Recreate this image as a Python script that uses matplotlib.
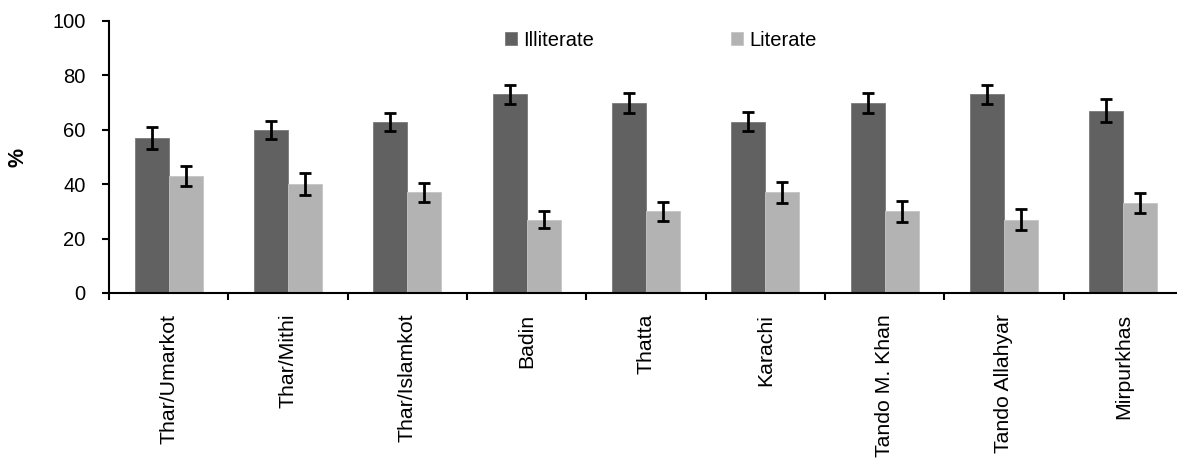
import numpy as np
import matplotlib.pyplot as plt

plt.rcParams['font.family'] = ['Liberation Sans', 'DejaVu Sans']

districts = ['Thar/Umarkot', 'Thar/Mithi', 'Thar/Islamkot', 'Badin', 'Thatta',
             'Karachi', 'Tando M. Khan', 'Tando Allahyar', 'Mirpurkhas']
illiterate = [57, 60, 63, 73, 70, 63, 70, 73, 67]
literate = [43, 40, 37, 27, 30, 37, 30, 27, 33]
illiterate_err = [4.1, 3.2, 3.3, 3.5, 3.7, 3.6, 3.7, 3.4, 4.2]
literate_err = [3.7, 4.0, 3.6, 3.2, 3.4, 3.9, 3.9, 3.8, 3.6]

fig = plt.figure(figsize=(11.77, 4.62), dpi=100)
ax = fig.add_axes([109 / 1177, 1 - 293 / 462, (1183 - 109) / 1177, (293 - 21) / 462])

x = np.arange(len(districts))
w = 0.285
err_kw = dict(elinewidth=2, capsize=4.5, capthick=2, ecolor='black')
ax.bar(x - w / 2, illiterate, w, yerr=illiterate_err, color='#616161',
       edgecolor='#7a7a7a', linewidth=0.6, label='Illiterate', error_kw=err_kw)
ax.bar(x + w / 2, literate, w, yerr=literate_err, color='#b3b3b3',
       edgecolor='#c4c4c4', linewidth=0.6, label='Literate', error_kw=err_kw)

ax.set_xlim(-0.5, len(districts) - 0.5)
ax.set_ylim(0, 100)
ax.set_yticks(range(0, 101, 20))
ax.set_xticks(x)
ax.set_xticks(np.arange(-0.5, len(districts), 1), minor=True)
ax.set_xticklabels(districts, rotation=90, fontsize=15.3)
ax.tick_params(axis='x', which='major', length=0, pad=15)
ax.tick_params(axis='x', which='minor', length=5, width=1.5, direction='out')
ax.tick_params(axis='y', labelsize=14.5, length=5, width=1.5, direction='out', pad=12)
ax.set_ylabel('%', fontsize=15.5, fontweight='bold')
ax.yaxis.set_label_coords(-0.075, 0.5)

for side in ['top', 'right']:
    ax.spines[side].set_visible(False)
for side in ['left', 'bottom']:
    ax.spines[side].set_linewidth(1.5)

ax.legend(loc='upper left', bbox_to_anchor=(0.352, 1.03), ncol=2, frameon=False,
          fontsize=14.5, handlelength=0.6, handleheight=0.6, handletextpad=0.3,
          columnspacing=6.8)

fig.savefig('out.png', dpi=100)
